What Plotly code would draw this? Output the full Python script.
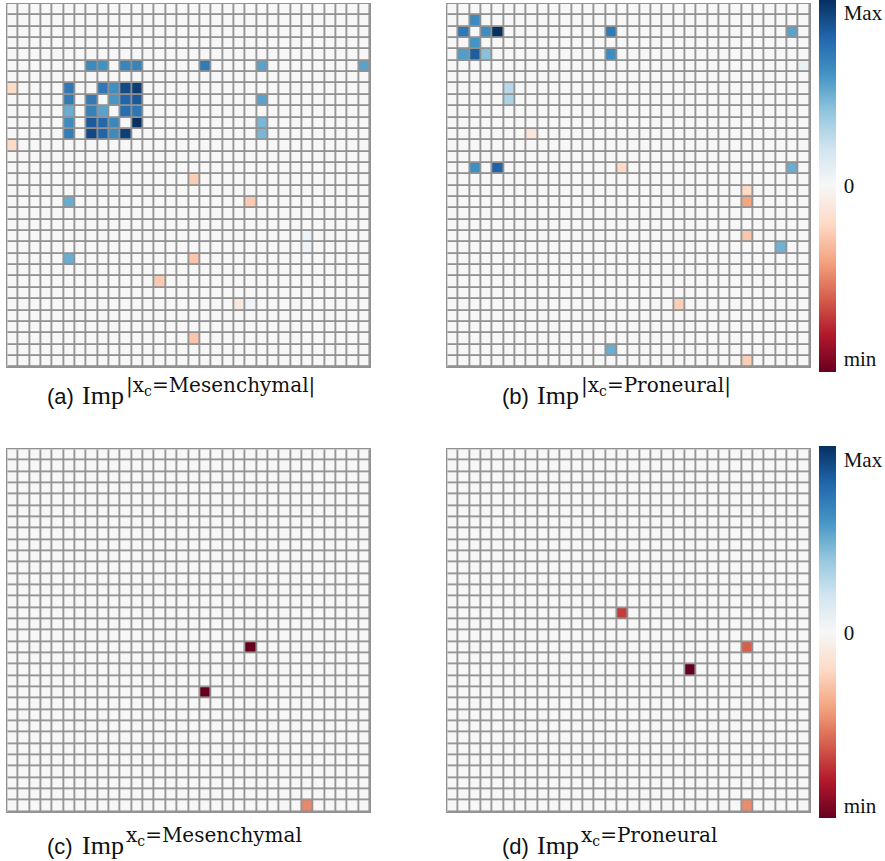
import numpy as np
import plotly.graph_objects as go

N = 32  # grid is N x N

# Sparse importance maps: (row, col) positions and signed values scaled to [-1, 1]
a_rows = [5, 5, 5, 5, 5, 5, 5,
          7, 7, 7, 7, 7, 7,
          8, 8, 8, 8, 8, 8,
          9, 9, 9, 9, 9,
          10, 10, 10, 10, 10, 10,
          11, 11, 11, 11, 11, 11,
          12, 15, 17, 17, 20, 21, 22, 22, 24, 26, 26, 29]
a_cols = [7, 8, 10, 11, 17, 22, 31,
          0, 5, 8, 9, 10, 11,
          5, 7, 9, 10, 11, 22,
          5, 7, 8, 10, 11,
          5, 7, 8, 9, 11, 22,
          5, 7, 8, 9, 10, 22,
          0, 16, 5, 21, 26, 26, 5, 16, 13, 20, 21, 16]
a_vals = [0.64, 0.61, 0.66, 0.67, 0.71, 0.54, 0.54,
          -0.2, 0.72, 0.72, 0.62, 0.90, 0.95,
          0.71, 0.71, 0.59, 0.80, 0.85, 0.54,
          0.50, 0.68, 0.54, 0.76, 0.73,
          0.63, 0.84, 0.79, 0.65, 1.00, 0.46,
          0.70, 0.91, 0.80, 0.64, 0.94, 0.46,
          -0.2, -0.25, 0.50, -0.26, 0.06, 0.06, 0.50, -0.28, -0.26, -0.10, 0.03, -0.28]

b_rows = [1, 2, 2, 2, 2, 2, 3, 4, 4, 4, 4, 5, 7, 8, 11,
          14, 14, 14, 14, 16, 17, 20, 21, 26, 30, 31]
b_cols = [2, 1, 3, 4, 14, 30, 2, 1, 2, 3, 14, 31, 5, 5, 7,
          2, 4, 15, 30, 26, 26, 26, 29, 20, 14, 26]
b_vals = [0.64, 0.72, 0.63, 1.00, 0.71, 0.54, 0.60, 0.56, 0.83, 0.42, 0.63, 0.07, 0.28, 0.32, -0.12,
          0.62, 0.81, -0.20, 0.50, -0.20, -0.40, -0.28, 0.48, -0.24, 0.50, -0.25]

c_rows = [17, 21, 31]
c_cols = [21, 17, 26]
c_vals = [-1.0, -1.0, -0.48]

d_rows = [14, 17, 19, 31]
d_cols = [15, 26, 21, 26]
d_vals = [-0.70, -0.60, -1.0, -0.47]

# Colorbar labels
cbar_ticktext = ["min", "0", "Max"]

# Panel captions: tag, superscript body
captions = [
    ("(a)", "|x<sub>c</sub>=Mesenchymal|"),
    ("(b)", "|x<sub>c</sub>=Proneural|"),
    ("(c)", "x<sub>c</sub>=Mesenchymal"),
    ("(d)", "x<sub>c</sub>=Proneural"),
]

W, H = 885, 861

# Diverging red-white-blue scale (ColorBrewer RdBu, blue = positive)
rdbu = ["#67001f", "#b2182b", "#d6604d", "#f4a582", "#fddbc7", "#f7f7f7",
        "#d1e5f0", "#92c5de", "#4393c3", "#2166ac", "#053061"]
colorscale = [[i / 10, c] for i, c in enumerate(rdbu)]


def grid(rows, cols, vals):
    z = np.zeros((N, N))
    for r, c, v in zip(rows, cols, vals):
        z[r, c] = v
    return z


panels = [grid(a_rows, a_cols, a_vals), grid(b_rows, b_cols, b_vals),
          grid(c_rows, c_cols, c_vals), grid(d_rows, d_cols, d_vals)]

# pixel boxes for each panel: (left, right, top, bottom)
boxes = [(7.3, 370.3, 4.0, 367.3), (447.3, 810.0, 4.0, 367.3),
         (7.3, 370.3, 449.3, 812.0), (447.3, 810.0, 449.3, 812.0)]
# colorbar vertical extents in pixels (top, bottom)
cbars = [None, (0.0, 372.0), None, (446.5, 818.5)]

fig = go.Figure()
grid_color = "#919191"

for i, (z, box) in enumerate(zip(panels, boxes)):
    l, r, t, b = box
    xa = "x" if i == 0 else f"x{i+1}"
    ya = "y" if i == 0 else f"y{i+1}"
    trace = dict(
        z=z, x=list(range(N)), y=list(range(N)),
        colorscale=colorscale, zmin=-1, zmax=1,
        xgap=1.8, ygap=1.8, xaxis=xa, yaxis=ya,
        hoverinfo="skip", showscale=cbars[i] is not None,
    )
    if cbars[i] is not None:
        ct, cb = cbars[i]
        trace["colorbar"] = dict(
            x=819 / W, xanchor="left", xpad=0, ypad=0,
            y=1 - (ct + cb) / 2 / H, yanchor="middle",
            len=(cb - ct) / H, lenmode="fraction",
            thickness=17, outlinewidth=0,
            tickvals=[-0.93, 0, 0.93], ticktext=cbar_ticktext,
            ticks="outside", ticklen=4, tickcolor="rgba(0,0,0,0)",
            tickfont=dict(family="Liberation Serif", size=21, color="#111111"),
        )
    fig.add_trace(go.Heatmap(**trace))
    axkey = "xaxis" if i == 0 else f"xaxis{i+1}"
    aykey = "yaxis" if i == 0 else f"yaxis{i+1}"
    fig.update_layout(**{
        axkey: dict(domain=[l / W, r / W], range=[-0.5, N - 0.5],
                    showticklabels=False, showgrid=False, zeroline=False,
                    ticks="", showline=True, mirror=True, linecolor=grid_color,
                    linewidth=1, anchor=ya),
        aykey: dict(domain=[1 - b / H, 1 - t / H], range=[N - 0.5, -0.5],
                    showticklabels=False, showgrid=False, zeroline=False,
                    ticks="", showline=True, mirror=True, linecolor=grid_color,
                    linewidth=1, anchor=xa),
    })

# captions under each panel
annotations = []
cap_pos = [(45, 396), (500, 396), (45, 846), (500, 846)]
for (tag, sup), (x0, yc) in zip(captions, cap_pos):
    annotations.append(dict(
        x=x0 / W, y=1 - yc / H, xref="paper", yref="paper",
        xanchor="left", yanchor="middle", showarrow=False, text=tag,
        font=dict(family="Liberation Sans", size=22, color="#111111")))
    annotations.append(dict(
        x=(x0 + 35) / W, y=1 - (yc - 1) / H, xref="paper", yref="paper",
        xanchor="left", yanchor="middle", showarrow=False, text="Imp",
        font=dict(family="Liberation Serif", size=26, color="#111111")))
    annotations.append(dict(
        x=(x0 + 79) / W, y=1 - (yc - 10) / H, xref="paper", yref="paper",
        xanchor="left", yanchor="middle", showarrow=False, text=sup,
        font=dict(family="DejaVu Serif", size=20, color="#111111")))

fig.update_layout(
    width=W, height=H, margin=dict(l=0, r=0, t=0, b=0),
    paper_bgcolor="white", plot_bgcolor=grid_color,
    annotations=annotations, showlegend=False,
)

fig.write_html("out.html")
